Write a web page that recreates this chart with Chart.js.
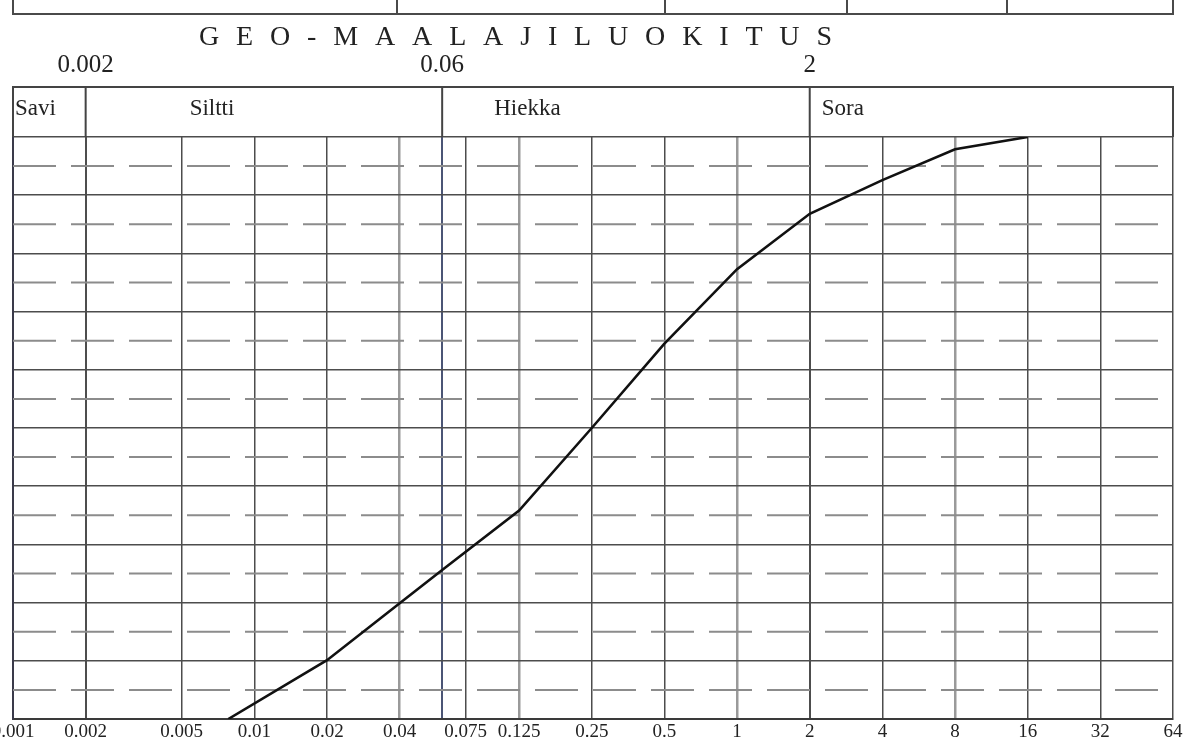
<!DOCTYPE html>
<html><head><meta charset="utf-8">
<script src="https://cdn.jsdelivr.net/npm/chart.js@4"></script>
<style>html,body{margin:0;padding:0;background:#fff;}canvas{display:block;}</style>
</head><body>
<canvas id="c" width="1183" height="743"></canvas>
<script>
// ---- data ----
const diameters = [0.0078, 0.02, 0.04, 0.06, 0.125, 0.25, 0.5, 1, 2, 4, 8, 16];
const passing   = [0, 10.1, 19.9, 25.6, 35.8, 50, 64.5, 77.3, 86.8, 92.6, 97.9, 100];
const xTickValues = [0.001, 0.002, 0.005, 0.01, 0.02, 0.04, 0.06, 0.075, 0.125, 0.25, 0.5, 1, 2, 4, 8, 16, 32, 64];
const xTickLabels = ['0.001','0.002','0.005','0.01','0.02','0.04','','0.075','0.125','0.25','0.5','1','2','4','8','16','32','64'];
const minorLevels = [5, 15, 25, 35, 45, 55, 65, 75, 85, 95];
const fractionNames = ['Savi', 'Siltti', 'Hiekka', 'Sora'];
const fractionBounds = [0.002, 0.06, 2];
const boundLabels = ['0.002', '0.06', '2'];
const titleText = 'GEO-MAALAJILUOKITUS';
const xMin = 0.001, xMax = 64;

const SERIF = '"Liberation Serif", "DejaVu Serif", serif';
const lightLines = [0.04, 0.125, 1, 8];

const datasets = [{
  data: diameters.map((d, i) => ({x: d, y: passing[i]})),
  borderColor: '#111', borderWidth: 2.6, pointRadius: 0, tension: 0, fill: false
}];
minorLevels.forEach(l => datasets.push({
  data: [{x: xMin, y: l}, {x: xMax, y: l}],
  borderColor: '#8c8c8c', borderWidth: 2, borderDash: [43, 15], pointRadius: 0, fill: false
}));

const decor = {
  id: 'decor',
  afterDraw(chart) {
    const {ctx, chartArea: a, scales: {x}} = chart;
    ctx.save();
    ctx.strokeStyle = '#4a4a4a';
    ctx.lineWidth = 2;
    // fragment of table above
    ctx.beginPath();
    ctx.moveTo(a.left, 0); ctx.lineTo(a.left, 14);
    ctx.lineTo(a.right, 14); ctx.lineTo(a.right, 0);
    [397, 665, 847, 1007].forEach(px => { ctx.moveTo(px, 0); ctx.lineTo(px, 14); });
    ctx.stroke();
    // title
    ctx.fillStyle = '#222';
    ctx.font = '28px ' + SERIF;
    ctx.textBaseline = 'alphabetic';
    ctx.textAlign = 'left';
    const chars = titleText.split('');
    const widths = chars.map(c => ctx.measureText(c).width);
    const total = widths.reduce((s, w) => s + w, 0);
    const gap = (633 - total) / (chars.length - 1);
    let cx = 199;
    chars.forEach((c, i) => { ctx.fillText(c, cx, 45); cx += widths[i] + gap; });
    // boundary labels
    ctx.font = '25px ' + SERIF;
    ctx.textAlign = 'center';
    fractionBounds.forEach((b, i) => ctx.fillText(boundLabels[i], x.getPixelForValue(b), 72));
    // header band
    const hTop = a.top - 50;
    ctx.lineWidth = 2;
    ctx.strokeStyle = '#444';
    ctx.beginPath();
    ctx.moveTo(a.left, a.top); ctx.lineTo(a.left, hTop); ctx.lineTo(a.right, hTop); ctx.lineTo(a.right, a.top);
    fractionBounds.forEach(b => { const px = x.getPixelForValue(b); ctx.moveTo(px, hTop); ctx.lineTo(px, a.top); });
    ctx.stroke();
    ctx.font = '23px ' + SERIF;
    ctx.textAlign = 'left';
    const edges = [xMin, ...fractionBounds];
    const offs = [2, 104, 52, 12];
    fractionNames.forEach((n, i) => ctx.fillText(n, x.getPixelForValue(edges[i]) + offs[i], hTop + 28));
    ctx.restore();
  }
};

new Chart(document.getElementById('c'), {
  type: 'line',
  data: {datasets},
  options: {
    responsive: false, animation: false, devicePixelRatio: 1,
    layout: {padding: {left: 13, right: 10, top: 137, bottom: 0}},
    plugins: {legend: {display: false}, tooltip: {enabled: false}},
    elements: {line: {borderCapStyle: 'butt'}},
    scales: {
      x: {
        type: 'logarithmic', min: xMin, max: xMax,
        afterBuildTicks: s => { s.ticks = xTickValues.map(v => ({value: v})); },
        afterFit: s => { s.paddingLeft = 0; s.paddingRight = 0; s.height = 24; },
        ticks: {
          autoSkip: false, maxRotation: 0, minRotation: 0, padding: 4,
          color: '#222', font: {family: SERIF, size: 19, lineHeight: 1},
          callback: (v, i) => xTickLabels[i]
        },
        grid: {
          drawTicks: false,
          color: c => {
            const v = c.tick && c.tick.value;
            if (v === 0.06) return '#4b5575';
            if (lightLines.includes(v)) return '#9a9a9a';
            return '#4d4d4d';
          },
          lineWidth: c => {
            const v = c.tick && c.tick.value;
            if (lightLines.includes(v)) return 2.5;
            if (fractionBounds.includes(v)) return 2;
            return 1.5;
          }
        },
        border: {display: true, color: '#3a3a3a', width: 2}
      },
      y: {
        min: 0, max: 100,
        ticks: {display: false, stepSize: 10},
        grid: {drawTicks: false, color: '#4d4d4d', lineWidth: 1.6},
        border: {display: true, color: '#3a3a4a', width: 2}
      }
    }
  },
  plugins: [decor]
});
</script>
</body></html>
